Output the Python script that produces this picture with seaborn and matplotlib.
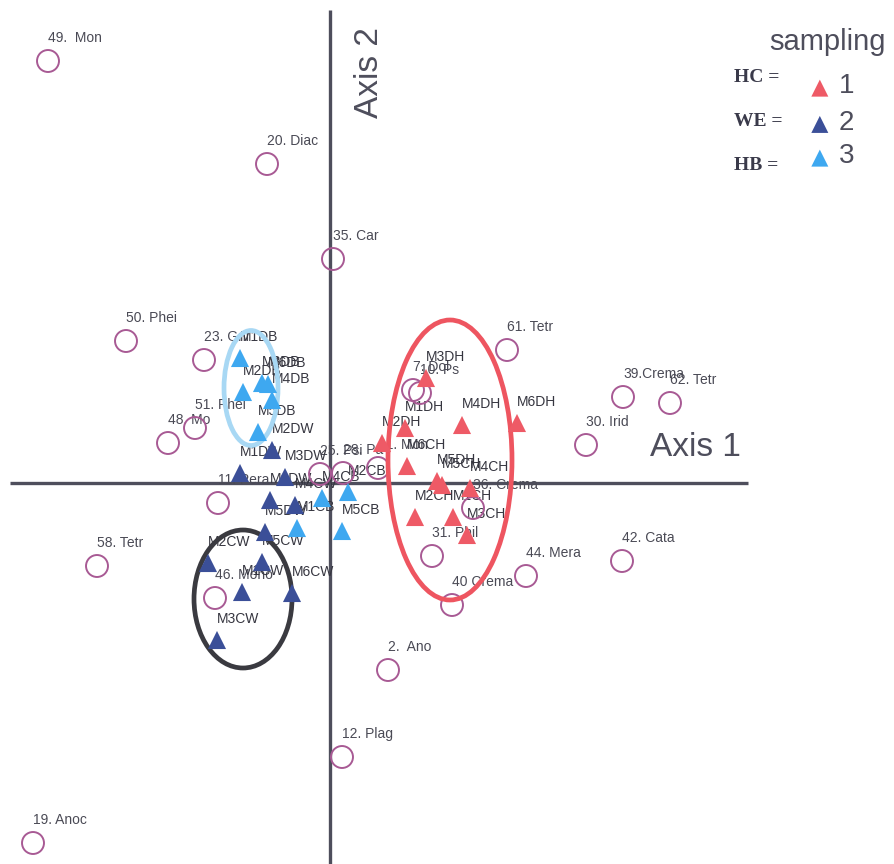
import matplotlib
matplotlib.use("Agg")
import matplotlib.pyplot as plt
from matplotlib.patches import Ellipse
import pandas as pd
import seaborn as sns

# species scores (open circles)
species_labels = ["49.  Mon", "20. Diac", "35. Car", "50. Phei", "23. Gnl", "51. Phei",
                  "48. Mo", "61. Tetr", "39.Crema", "62. Tetr", "30. Irid", "7. Dol",
                  "10. Ps", "11. Pera", "25. Psi", "28. Pa", "41. Mon", "36. Crema",
                  "31. Phil", "44. Mera", "42. Cata", "40 Crema", "58. Tetr", "46. Mono",
                  "2.  Ano", "12. Plag", "19. Anoc"]
species_x = [-2.82, -0.63, 0.03, -2.04, -1.26, -1.35, -1.62, 1.77, 2.93, 3.40, 2.56, 0.83,
             0.90, -1.12, -0.10, 0.13, 0.48, 1.43, 1.02, 1.96, 2.92, 1.22, -2.33, -1.15,
             0.58, 0.12, -2.97]
species_y = [4.22, 3.19, 2.24, 1.42, 1.23, 0.55, 0.40, 1.33, 0.86, 0.80, 0.38, 0.93,
             0.90, -0.20, 0.09, 0.10, 0.15, -0.25, -0.73, -0.93, -0.78, -1.22, -0.83, -1.15,
             -1.87, -2.74, -3.60]

# sample scores (triangles)
hc_labels = ["M3DH", "M4DH", "M6DH", "M1DH", "M2DH", "M6CH", "M5CH", "M5DH", "M4CH",
             "M2CH", "M1CH", "M3CH"]
hc_x = [0.96, 1.32, 1.87, 0.75, 0.52, 0.77, 1.12, 1.07, 1.40, 0.85, 1.23, 1.37]
hc_y = [1.05, 0.58, 0.60, 0.55, 0.40, 0.17, -0.02, 0.02, -0.05, -0.34, -0.34, -0.52]

we_labels = ["M2DW", "M1DW", "M3DW", "M6DW", "M4CW", "M5DW", "M2CW", "M5CW", "M1CW",
             "M6CW", "M3CW"]
we_x = [-0.58, -0.90, -0.45, -0.60, -0.35, -0.65, -1.22, -0.68, -0.88, -0.38, -1.13]
we_y = [0.33, 0.10, 0.06, -0.17, -0.22, -0.49, -0.80, -0.79, -1.09, -1.10, -1.57]

hb_labels = ["M1DB", "M3DB", "M2DB", "M4DB", "M6DB", "M5DB", "M2CB", "M4CB", "M1CB", "M5CB"]
hb_x = [-0.90, -0.68, -0.87, -0.58, -0.62, -0.72, 0.18, -0.08, -0.33, 0.12]
hb_y = [1.25, 1.00, 0.91, 0.83, 0.99, 0.51, -0.09, -0.15, -0.45, -0.48]

sampling_names = ["HC", "WE", "HB"]
sampling_codes = ["1", "2", "3"]
sampling_colors = ["#ee5a66", "#3b4f98", "#3ea8f0"]

# group ellipses: HB, WE, HC
ellipse_cx = [-0.79, -0.87, 1.20]
ellipse_cy = [0.95, -1.16, 0.23]
ellipse_w = [0.54, 0.98, 1.24]
ellipse_h = [1.15, 1.38, 2.80]
ellipse_colors = ["#a8d8f4", "#3a3a40", "#ee5560"]

GREY = "#4e4e5c"
CIRCLE = "#a85a94"

sp = pd.DataFrame({"label": species_labels, "x": species_x, "y": species_y})
smp = pd.concat([
    pd.DataFrame({"label": hc_labels, "x": hc_x, "y": hc_y, "sampling": "HC"}),
    pd.DataFrame({"label": we_labels, "x": we_x, "y": we_y, "sampling": "WE"}),
    pd.DataFrame({"label": hb_labels, "x": hb_x, "y": hb_y, "sampling": "HB"}),
], ignore_index=True)

sns.set_style("white")
plt.rcParams["font.family"] = ["Liberation Sans", "DejaVu Sans"]

fig = plt.figure(figsize=(8.95, 8.64), dpi=100)
ax = fig.add_axes([0, 0, 1, 1])
ax.set_xlim(-3.30, 5.65)
ax.set_ylim(-3.81, 4.83)
ax.axis("off")

# ordination axes
ax.vlines(0, -3.81, 4.73, color=GREY, lw=2.4, zorder=2)
ax.hlines(0, -3.20, 4.18, color=GREY, lw=2.4, zorder=2)
ax.text(0.40, 4.10, "Axis 2", rotation=90, ha="center", va="center",
        fontsize=24, color=GREY)
ax.text(3.65, 0.36, "Axis 1", ha="center", va="center", fontsize=24, color=GREY)

# labels first, marks on top
for _, r in sp.iterrows():
    ax.annotate(r["label"], (r["x"], r["y"]), xytext=(0, 23), textcoords="offset pixels",
                ha="left", va="center", fontsize=10, color="#4a4a55", zorder=2)
for _, r in smp.iterrows():
    ax.annotate(r["label"], (r["x"], r["y"]), xytext=(0, 21), textcoords="offset pixels",
                ha="left", va="center", fontsize=10, color="#363640", zorder=2)

ax.scatter(sp["x"], sp["y"], s=250, facecolors="none", edgecolors=CIRCLE,
           linewidths=1.4, zorder=3)

pal = dict(zip(sampling_names, sampling_colors))
sns.scatterplot(data=smp, x="x", y="y", hue="sampling", hue_order=sampling_names,
                palette=pal, marker="^", s=170, edgecolor="none", legend=False,
                ax=ax, zorder=4)

for cx, cy, w, h, c in zip(ellipse_cx, ellipse_cy, ellipse_w, ellipse_h, ellipse_colors):
    ax.add_patch(Ellipse((cx, cy), w, h, fill=False, ec=c, lw=3.4, zorder=3))

# hand-made legend
fig.text(0.860, 0.951, "sampling", fontsize=21, color=GREY, ha="left", va="center")
name_y = [0.910, 0.859, 0.809]
mark_y = [0.898, 0.856, 0.817]
for name, code, col, ny, my in zip(sampling_names, sampling_codes, sampling_colors,
                                   name_y, mark_y):
    fig.text(0.820, ny, f"{name} =", fontsize=14, fontweight="bold",
             family=["Liberation Serif", "DejaVu Serif"], color="#3a3a4a",
             ha="left", va="center")
    ax.scatter([0.916], [my], transform=fig.transFigure, marker="^", s=150,
               color=col, edgecolors="none", zorder=5)
    fig.text(0.937, my + 0.002, code, fontsize=20, color=GREY, ha="left", va="center")

fig.savefig("out.png", dpi=100)
